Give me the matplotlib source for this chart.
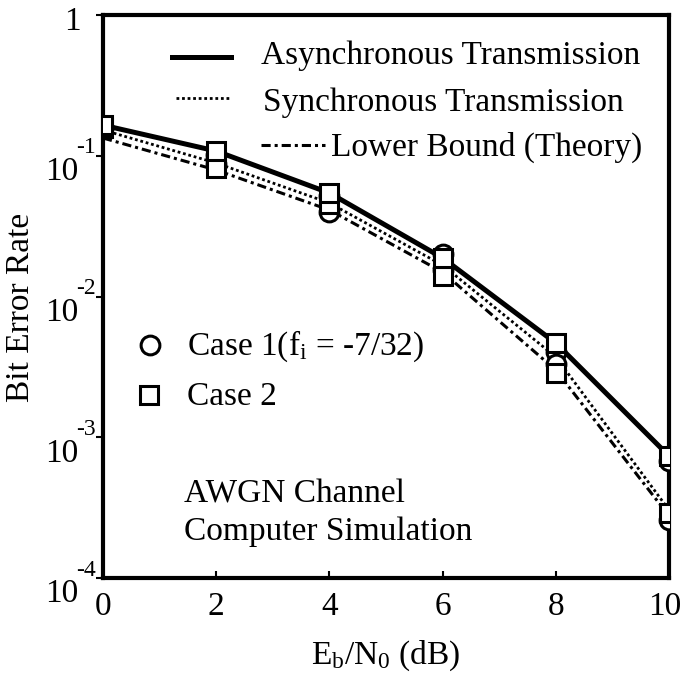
import matplotlib
matplotlib.use("Agg")
import matplotlib.pyplot as plt
import matplotlib.transforms as mtransforms
from matplotlib.lines import Line2D

plt.rcParams['font.family'] = ['Liberation Serif', 'DejaVu Serif']
plt.rcParams['mathtext.fontset'] = 'custom'
plt.rcParams['mathtext.rm'] = 'Liberation Serif'
plt.rcParams['mathtext.it'] = 'Liberation Serif:italic'

# Eb/N0 in dB
ebn0 = [0, 2, 4, 6, 8, 10]

# Bit error rates
async_case1 = [0.160, 0.101, 0.0518, 0.0200, 0.00403, 0.000678]
async_case2 = [0.165, 0.108, 0.0544, 0.0188, 0.00467, 0.000736]
sync_case1 = [0.157, 0.0873, 0.0398, 0.0154, 0.00330, 0.000258]
sync_case2 = [0.157, 0.0818, 0.0454, 0.0140, 0.00286, 0.000290]
sync_curve = [0.1524, 0.0888, 0.0462, 0.0167, 0.00372, 0.000304]
theory_curve = [0.1337, 0.0792, 0.0412, 0.0149, 0.00300, 0.000276]

xticks = [0, 2, 4, 6, 8, 10]
ydecades = [1, 1e-1, 1e-2, 1e-3, 1e-4]
yexponents = ['', '-1', '-2', '-3', '-4']

FS = 24

fig = plt.figure(figsize=(6.84, 6.77), dpi=100)
ax = fig.add_axes([0.1506, 0.1462, 0.8275, 0.8316])
ax.set_yscale('log')
ax.set_xlim(0, 10)
ax.set_ylim(1e-4, 1)

dashdot = (0, (3, 1.3, 1, 1.3))

ax.plot(ebn0, theory_curve, color='black', lw=2.2, linestyle=dashdot, zorder=2)
ax.plot(ebn0, sync_curve, color='black', lw=2.0, linestyle=(0, (1, 1)), zorder=2)
ax.plot(ebn0, async_case2, color='black', lw=3.6, solid_capstyle='butt', zorder=3)

mk = dict(linestyle='none', markerfacecolor='white', markeredgecolor='black',
          markeredgewidth=2.2, markersize=13.5)
ax.plot(ebn0, async_case1, marker='o', zorder=4, **mk)
ax.plot(ebn0, sync_case1, marker='o', zorder=4, **mk)
ax.plot(ebn0, sync_case2, marker='s', zorder=5, **mk)
ax.plot(ebn0, async_case2, marker='s', zorder=6, **mk)

# axes frame and ticks
for s in ax.spines.values():
    s.set_linewidth(3)
ax.set_xticks(xticks)
ax.set_xticklabels([str(v) for v in xticks], fontsize=FS)
ax.tick_params(axis='x', direction='in', length=5, width=1.5, pad=10)
last = ax.get_xticklabels()[-1]
last.set_transform(last.get_transform() +
                   mtransforms.ScaledTranslation(-4 / 100, 0, fig.dpi_scale_trans))
ax.set_yticks(ydecades)
ax.set_yticklabels([])
ax.yaxis.set_minor_locator(matplotlib.ticker.NullLocator())
ax.tick_params(axis='y', direction='out', length=5, width=1.5)

# decade labels with raised exponents
for v, e in zip(ydecades, yexponents):
    if e == '':
        ax.annotate('1', xy=(0, v), xycoords=('axes fraction', 'data'),
                    xytext=(-31, -7), textcoords='offset pixels',
                    ha='center', va='center', fontsize=FS, annotation_clip=False)
    else:
        ax.annotate('10', xy=(0, v), xycoords=('axes fraction', 'data'),
                    xytext=(-41, -16), textcoords='offset pixels',
                    ha='center', va='center', fontsize=FS, annotation_clip=False)
        ax.annotate(e, xy=(0, v), xycoords=('axes fraction', 'data'),
                    xytext=(-17, 8), textcoords='offset pixels',
                    ha='center', va='center', fontsize=17, annotation_clip=False)

ax.set_xlabel(r'$\mathrm{E_b/N_0}$ (dB)', fontsize=FS)
ax.xaxis.set_label_coords(0.5, -0.108)
ax.set_ylabel('Bit Error Rate', fontsize=FS)
ax.yaxis.set_label_coords(-0.118, 0.48)

# line-style key
T = ax.transAxes
ax.add_line(Line2D([0.122, 0.226], [0.925, 0.925], transform=T, color='black', lw=3.6))
ax.text(0.279, 0.913, 'Asynchronous Transmission', transform=T, fontsize=FS, va='baseline')
ax.add_line(Line2D([0.129, 0.226], [0.853, 0.853], transform=T, color='black', lw=2.0,
                   linestyle=(0, (1, 1))))
ax.text(0.283, 0.829, 'Synchronous Transmission', transform=T, fontsize=FS, va='baseline')
ax.add_line(Line2D([0.279, 0.392], [0.769, 0.769], transform=T, color='black', lw=2.2,
                   linestyle=dashdot))
ax.text(0.403, 0.750, 'Lower Bound (Theory)', transform=T, fontsize=FS, va='baseline')

# marker key
ax.plot([0.083], [0.414], transform=T, marker='o', clip_on=False, **mk)
ax.text(0.148, 0.396, r'Case 1(f$_\mathrm{i}$ = -7/32)', transform=T, fontsize=FS, va='baseline')
ax.plot([0.081], [0.325], transform=T, marker='s', clip_on=False, **mk)
ax.text(0.148, 0.307, 'Case 2', transform=T, fontsize=FS, va='baseline')

ax.text(0.143, 0.135, 'AWGN Channel', transform=T, fontsize=FS, va='baseline')
ax.text(0.143, 0.068, 'Computer Simulation', transform=T, fontsize=FS, va='baseline')

fig.savefig('out.png', dpi=100)
